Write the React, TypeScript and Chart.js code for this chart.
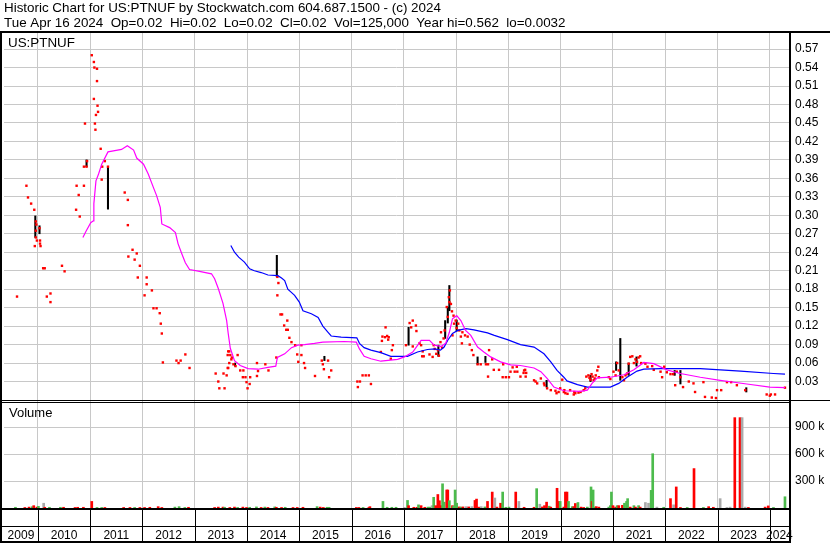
import React, { useEffect, useRef } from 'react';
import { Chart, registerables } from 'chart.js';

Chart.register(...registerables);

const FONT = '"Liberation Sans", Arial, sans-serif';

const titleLine1 = 'Historic Chart for US:PTNUF by Stockwatch.com 604.687.1500 - (c) 2024';
const titleLine2 = 'Tue Apr 16 2024  Op=0.02  Hi=0.02  Lo=0.02  Cl=0.02  Vol=125,000  Year hi=0.562  lo=0.0032';
const symbolLabel = 'US:PTNUF';
const volumeLabel = 'Volume';

const xMin = 2009.351;
const xMax = 2024.367;
const yearBoundaries = [2010, 2011, 2012, 2013, 2014, 2015, 2016, 2017, 2018, 2019, 2020, 2021, 2022, 2023, 2024];
const yearLabels = ['2009', '2010', '2011', '2012', '2013', '2014', '2015', '2016', '2017', '2018', '2019', '2020', '2021', '2022', '2023', '2024'];
const priceTicks = [0.03, 0.06, 0.09, 0.12, 0.15, 0.18, 0.21, 0.24, 0.27, 0.3, 0.33, 0.36, 0.39, 0.42, 0.45, 0.48, 0.51, 0.54, 0.57];
const priceMax = 0.5961;
const volTicks = [300000, 600000, 900000];
const volTickLabels = ['300 k', '600 k', '900 k'];
const volMax = 1200000;

// daily closes (decimal year, price)
const closeDates = [
  2009.60, 2009.78, 2009.81, 2009.87, 2009.93, 2009.94, 2009.96, 2009.97, 2009.96, 2009.96, 2009.98, 2010.03, 2010.04, 2010.04, 2010.05,
  2010.10, 2010.13, 2010.17, 2010.24, 2010.24, 2010.46, 2010.51, 2010.73, 2010.74, 2010.78, 2010.80, 2010.88, 2010.88, 2010.90, 2010.93,
  2010.94, 2011.03, 2011.07, 2011.08, 2011.13, 2011.13, 2011.07, 2011.14, 2011.15, 2011.11, 2011.09, 2011.10, 2011.20, 2011.28, 2011.23,
  2011.34, 2011.22, 2011.66, 2011.72, 2011.72, 2011.81, 2011.89, 2011.73, 2011.85, 2011.95, 2011.91, 2012.08, 2012.08, 2012.18, 2012.04,
  2012.21, 2012.27, 2012.33, 2012.35, 2012.37, 2012.39, 2012.65, 2012.73, 2012.69, 2012.82, 2012.90,
  2013.40, 2013.45, 2013.47, 2013.57, 2013.55, 2013.61, 2013.63, 2013.64, 2013.66, 2013.70, 2013.64, 2013.66, 2013.63, 2013.68, 2013.82,
  2013.71, 2013.74, 2013.78, 2013.87, 2013.93, 2013.92, 2013.97, 2013.99, 2014.05, 2014.01, 2014.06, 2014.19, 2014.21, 2014.19, 2014.35,
  2014.41, 2014.56, 2014.58, 2014.60, 2014.58, 2014.64, 2014.67, 2014.71, 2014.77, 2014.75, 2014.78, 2014.81, 2014.85, 2014.92, 2015.04,
  2014.96, 2015.04, 2014.98, 2015.09, 2015.11, 2015.30, 2015.43, 2015.55, 2015.45, 2015.47, 2015.61, 2015.57,
  2016.11, 2016.16, 2016.12, 2016.21, 2016.27, 2016.33, 2016.37, 2016.56, 2016.58, 2016.59, 2016.64, 2016.65, 2016.68, 2016.71, 2016.70,
  2016.75, 2016.77, 2016.79, 2017.04, 2017.11, 2017.17, 2017.14, 2017.23, 2017.24, 2017.17, 2017.30, 2017.33, 2017.36, 2017.35, 2017.38,
  2017.49, 2017.55, 2017.57, 2017.59, 2017.62, 2017.65, 2017.67, 2017.71, 2017.70, 2017.73, 2017.76, 2017.78, 2017.84, 2017.82, 2017.86,
  2017.88, 2017.87, 2017.90, 2017.92, 2017.95, 2017.99, 2017.96, 2018.04, 2018.01, 2018.06, 2017.93, 2018.12, 2018.09, 2018.17, 2018.22,
  2018.11, 2018.26, 2018.30, 2018.33, 2018.41, 2018.47, 2018.57, 2018.61, 2018.63, 2018.69, 2018.72, 2018.82, 2018.90, 2019.01, 2019.04,
  2019.12, 2019.17, 2018.89, 2018.95, 2018.61, 2019.23, 2019.33, 2019.30, 2019.16, 2019.08, 2019.32, 2019.29, 2019.34,
  2019.49, 2019.55, 2019.52, 2019.62, 2019.68, 2019.69, 2019.74, 2019.81, 2019.90, 2019.92, 2019.96, 2019.99, 2020.03, 2020.06, 2020.07,
  2020.09, 2020.13, 2020.18, 2020.25, 2020.26, 2020.28, 2020.34, 2020.38, 2020.44, 2020.47, 2020.49, 2020.53, 2020.55, 2020.57, 2020.59,
  2020.61, 2020.63, 2020.65, 2020.67, 2020.70, 2020.72, 2020.73, 2020.92, 2020.95, 2021.01, 2021.05, 2021.08, 2021.11, 2021.18, 2021.21,
  2021.24, 2021.27, 2021.30, 2021.33, 2021.37, 2021.40, 2021.43, 2021.46, 2021.49, 2021.52, 2021.54, 2021.62, 2021.66, 2021.75, 2021.78,
  2021.91, 2021.94, 2021.98, 2022.03, 2022.10, 2022.15, 2022.22, 2022.29, 2022.19, 2022.34, 2022.45, 2022.54, 2022.57, 2022.73, 2022.76,
  2022.89, 2022.97, 2022.99, 2023.07, 2023.18, 2023.26, 2023.37, 2023.53, 2023.94, 2024.00, 2024.02, 2024.10, 2024.29,
];
const closePrices = [
  0.168, 0.348, 0.329, 0.319, 0.309, 0.250, 0.290, 0.285, 0.275, 0.264, 0.259, 0.279, 0.259, 0.254, 0.250,
  0.214, 0.214, 0.168, 0.173, 0.159, 0.218, 0.209, 0.309, 0.348, 0.333, 0.298, 0.348, 0.379, 0.449, 0.379,
  0.388, 0.560, 0.549, 0.540, 0.538, 0.518, 0.489, 0.478, 0.468, 0.463, 0.449, 0.439, 0.408, 0.388, 0.379,
  0.379, 0.358, 0.337, 0.325, 0.284, 0.244, 0.238, 0.233, 0.228, 0.218, 0.199, 0.199, 0.188, 0.178, 0.170,
  0.149, 0.149, 0.141, 0.124, 0.108, 0.061, 0.064, 0.064, 0.060, 0.074, 0.052,
  0.043, 0.030, 0.019, 0.019, 0.043, 0.040, 0.052, 0.052, 0.060, 0.066, 0.079, 0.079, 0.073, 0.073, 0.073,
  0.069, 0.058, 0.055, 0.048, 0.048, 0.037, 0.037, 0.029, 0.026, 0.019, 0.037, 0.060, 0.047, 0.039, 0.058,
  0.048, 0.069, 0.200, 0.190, 0.170, 0.139, 0.139, 0.121, 0.129, 0.114, 0.114, 0.101, 0.094, 0.089, 0.089,
  0.074, 0.073, 0.062, 0.060, 0.052, 0.039, 0.064, 0.064, 0.058, 0.050, 0.048, 0.037,
  0.030, 0.030, 0.021, 0.040, 0.040, 0.040, 0.026, 0.078, 0.096, 0.103, 0.102, 0.118, 0.104, 0.102, 0.098,
  0.067, 0.081, 0.089, 0.089, 0.125, 0.129, 0.118, 0.121, 0.112, 0.087, 0.092, 0.089, 0.079, 0.071, 0.071,
  0.074, 0.070, 0.089, 0.083, 0.075, 0.081, 0.072, 0.110, 0.094, 0.085, 0.100, 0.113, 0.135, 0.151, 0.167,
  0.178, 0.159, 0.156, 0.144, 0.137, 0.129, 0.124, 0.124, 0.117, 0.113, 0.105, 0.110, 0.103, 0.105, 0.103,
  0.092, 0.090, 0.081, 0.073, 0.058, 0.058, 0.058, 0.058, 0.081, 0.066, 0.049, 0.049, 0.058, 0.037, 0.046,
  0.046, 0.046, 0.037, 0.037, 0.038, 0.038, 0.038, 0.048, 0.054, 0.053, 0.049, 0.044, 0.044,
  0.032, 0.027, 0.030, 0.035, 0.027, 0.024, 0.019, 0.016, 0.015, 0.011, 0.013, 0.019, 0.033, 0.013, 0.016,
  0.011, 0.010, 0.016, 0.009, 0.013, 0.011, 0.012, 0.013, 0.016, 0.019, 0.038, 0.040, 0.036, 0.033, 0.042,
  0.038, 0.032, 0.035, 0.040, 0.048, 0.054, 0.037, 0.037, 0.034, 0.046, 0.040, 0.060, 0.048, 0.037, 0.032,
  0.040, 0.043, 0.059, 0.070, 0.071, 0.060, 0.066, 0.062, 0.069, 0.071, 0.060, 0.059, 0.054, 0.055, 0.049,
  0.046, 0.037, 0.054, 0.045, 0.042, 0.042, 0.046, 0.037, 0.024, 0.021, 0.030, 0.027, 0.013, 0.029, 0.005,
  0.004, 0.0032, 0.016, 0.016, 0.029, 0.029, 0.024, 0.016, 0.009, 0.007, 0.009, 0.009, 0.020,
];

// daily high-low ranges
const hlDates = [2009.95, 2010.03, 2010.93, 2011.34, 2013.77, 2014.57, 2015.48, 2017.09, 2017.66, 2017.79, 2017.84, 2017.87, 2018.01, 2018.41, 2018.56, 2019.73, 2020.57, 2021.06, 2021.14, 2021.30, 2021.45, 2022.18, 2022.29, 2023.55];
const hlHigh = [0.299, 0.283, 0.390, 0.379, 0.060, 0.235, 0.071, 0.118, 0.089, 0.129, 0.151, 0.186, 0.130, 0.070, 0.071, 0.032, 0.040, 0.062, 0.100, 0.060, 0.070, 0.048, 0.048, 0.020];
const hlLow = [0.264, 0.270, 0.379, 0.310, 0.055, 0.200, 0.064, 0.089, 0.071, 0.100, 0.125, 0.145, 0.112, 0.058, 0.061, 0.021, 0.030, 0.048, 0.032, 0.040, 0.055, 0.040, 0.026, 0.013];

// magenta moving average
const maFastDates = [2010.86, 2010.92, 2011.01, 2011.06, 2011.07, 2011.11, 2011.16, 2011.22, 2011.34, 2011.47, 2011.60, 2011.71, 2011.83, 2011.89, 2012.02, 2012.11, 2012.21, 2012.27, 2012.34, 2012.37, 2012.52, 2012.63, 2012.68, 2012.75, 2012.82, 2012.90, 2013.09, 2013.32, 2013.38, 2013.45, 2013.54, 2013.61, 2013.64, 2013.68, 2013.76, 2013.87, 2014.02, 2014.21, 2014.40, 2014.55, 2014.58, 2014.72, 2014.85, 2014.97, 2015.10, 2015.29, 2015.45, 2015.86, 2016.09, 2016.15, 2016.24, 2016.37, 2016.56, 2016.88, 2017.01, 2017.17, 2017.33, 2017.49, 2017.58, 2017.71, 2017.80, 2017.87, 2017.93, 2018.01, 2018.09, 2018.18, 2018.28, 2018.41, 2018.53, 2018.66, 2018.85, 2019.04, 2019.23, 2019.49, 2019.62, 2019.74, 2019.87, 2020.06, 2020.38, 2020.51, 2020.60, 2020.70, 2020.95, 2021.21, 2021.40, 2021.59, 2021.78, 2022.03, 2022.29, 2022.67, 2023.05, 2023.56, 2024.00, 2024.29];
const maFastValues = [0.264, 0.274, 0.288, 0.291, 0.319, 0.356, 0.367, 0.383, 0.403, 0.405, 0.407, 0.413, 0.406, 0.393, 0.383, 0.367, 0.345, 0.332, 0.313, 0.286, 0.280, 0.272, 0.254, 0.238, 0.223, 0.212, 0.209, 0.205, 0.197, 0.181, 0.157, 0.129, 0.108, 0.084, 0.064, 0.056, 0.051, 0.050, 0.053, 0.055, 0.069, 0.075, 0.085, 0.089, 0.090, 0.092, 0.094, 0.095, 0.094, 0.083, 0.071, 0.067, 0.063, 0.066, 0.070, 0.078, 0.097, 0.097, 0.089, 0.087, 0.092, 0.110, 0.132, 0.137, 0.129, 0.113, 0.105, 0.086, 0.078, 0.070, 0.062, 0.057, 0.056, 0.052, 0.046, 0.035, 0.021, 0.015, 0.014, 0.016, 0.027, 0.036, 0.037, 0.041, 0.049, 0.061, 0.059, 0.049, 0.043, 0.037, 0.032, 0.026, 0.021, 0.020];

// blue moving average
const maSlowDates = [2013.69, 2013.76, 2013.84, 2013.95, 2014.05, 2014.14, 2014.27, 2014.40, 2014.59, 2014.66, 2014.72, 2014.78, 2014.91, 2015.00, 2015.07, 2015.23, 2015.36, 2015.45, 2015.55, 2015.61, 2015.80, 2016.10, 2016.15, 2016.24, 2016.37, 2016.56, 2016.75, 2017.07, 2017.26, 2017.45, 2017.59, 2017.70, 2017.77, 2017.84, 2017.93, 2018.03, 2018.19, 2018.34, 2018.60, 2018.73, 2018.98, 2019.23, 2019.49, 2019.68, 2019.81, 2019.93, 2020.06, 2020.12, 2020.32, 2020.51, 2020.95, 2021.11, 2021.27, 2021.46, 2021.59, 2021.91, 2022.67, 2023.44, 2024.07, 2024.29];
const maSlowValues = [0.251, 0.240, 0.232, 0.224, 0.213, 0.210, 0.207, 0.203, 0.202, 0.198, 0.194, 0.180, 0.170, 0.159, 0.145, 0.140, 0.134, 0.120, 0.110, 0.104, 0.102, 0.101, 0.092, 0.085, 0.081, 0.077, 0.071, 0.071, 0.078, 0.082, 0.083, 0.081, 0.086, 0.097, 0.108, 0.113, 0.116, 0.114, 0.109, 0.105, 0.098, 0.090, 0.086, 0.075, 0.062, 0.048, 0.037, 0.031, 0.025, 0.021, 0.021, 0.027, 0.037, 0.047, 0.050, 0.051, 0.051, 0.047, 0.043, 0.042];

// daily volume (decimal year, shares, direction: u = up, d = down, n = unchanged)
const volDates = [
  2009.57, 2009.75, 2009.83, 2009.89, 2009.92, 2009.98, 2010.01, 2010.11, 2010.13, 2010.22, 2010.43, 2010.49, 2010.71, 2010.76, 2010.87,
  2011.03, 2011.13, 2011.22, 2011.28, 2011.64, 2011.76, 2011.85, 2011.95, 2012.04, 2012.14, 2012.30, 2012.37, 2012.62, 2012.70, 2012.81,
  2012.88, 2013.38, 2013.45, 2013.54, 2013.57, 2013.67, 2013.76, 2013.82, 2013.92, 2013.99, 2014.05, 2014.18, 2014.27, 2014.34, 2014.40,
  2014.53, 2014.56, 2014.66, 2014.73, 2014.88, 2014.96, 2015.07, 2015.34, 2015.40, 2015.46, 2015.53, 2015.57, 2016.09, 2016.14, 2016.22,
  2016.33, 2016.35, 2016.60, 2016.68, 2016.77, 2016.85, 2017.01, 2017.07, 2017.09, 2017.19, 2017.25, 2017.28, 2017.33, 2017.40, 2017.46,
  2017.50, 2017.54, 2017.57, 2017.61, 2017.65, 2017.68, 2017.71, 2017.74, 2017.77, 2017.82, 2017.84, 2017.87, 2017.93, 2017.95, 2017.98,
  2018.01, 2018.06, 2018.09, 2018.13, 2018.19, 2018.24, 2018.30, 2018.36, 2018.39, 2018.43, 2018.48, 2018.55, 2018.60, 2018.69, 2018.74,
  2018.78, 2018.85, 2018.89, 2018.95, 2019.01, 2019.14, 2019.20, 2019.30, 2019.49, 2019.54, 2019.60, 2019.65, 2019.69, 2019.73, 2019.78,
  2019.81, 2019.93, 2019.96, 2019.99, 2020.06, 2020.09, 2020.12, 2020.15, 2020.22, 2020.25, 2020.28, 2020.33, 2020.39, 2020.44, 2020.51,
  2020.58, 2020.60, 2020.62, 2020.65, 2020.68, 2020.73, 2020.92, 2020.95, 2020.97, 2021.00, 2021.05, 2021.08, 2021.11, 2021.18, 2021.22,
  2021.26, 2021.28, 2021.33, 2021.40, 2021.43, 2021.49, 2021.52, 2021.62, 2021.68, 2021.73, 2021.76, 2021.84, 2021.97, 2022.10, 2022.16,
  2022.21, 2022.29, 2022.42, 2022.55, 2022.73, 2022.83, 2022.92, 2023.05, 2023.18, 2023.24, 2023.33, 2023.43, 2023.47, 2023.53, 2023.59,
  2023.91, 2023.97, 2024.07, 2024.29,
];
const volShares = [
  8000, 6000, 10000, 14000, 26000, 10000, 18000, 53000, 8000, 8000, 8000, 8000, 6000, 8000, 8000,
  73000, 6000, 6000, 6000, 6000, 6000, 6000, 6000, 6000, 8000, 15000, 6000, 10000, 15000, 6000,
  8000, 6000, 10000, 10000, 8000, 6000, 10000, 6000, 10000, 6000, 8000, 12000, 6000, 10000, 6000,
  12000, 8000, 6000, 8000, 6000, 6000, 8000, 15000, 10000, 6000, 8000, 8000, 6000, 6000, 6000,
  6000, 15000, 73000, 8000, 8000, 8000, 6000, 84000, 26000, 8000, 8000, 35000, 26000, 8000, 10000,
  10000, 26000, 119000, 26000, 150000, 81000, 26000, 269000, 65000, 200000, 200000, 81000, 26000, 20000, 200000,
  53000, 12000, 10000, 12000, 15000, 12000, 15000, 84000, 99000, 10000, 15000, 12000, 73000, 177000, 111000,
  10000, 53000, 177000, 8000, 10000, 177000, 73000, 8000, 8000, 215000, 42000, 12000, 26000, 65000, 20000,
  10000, 219000, 73000, 73000, 10000, 177000, 177000, 73000, 15000, 15000, 50000, 61000, 10000, 6000, 10000,
  234000, 73000, 200000, 10000, 15000, 10000, 10000, 26000, 177000, 26000, 10000, 26000, 26000, 30000, 53000,
  73000, 104000, 10000, 26000, 10000, 26000, 10000, 61000, 53000, 196000, 603000, 10000, 8000, 104000, 35000,
  234000, 6000, 6000, 438000, 6000, 15000, 8000, 104000, 6000, 10000, 1004000, 1004000, 1004000, 10000, 6000,
  10000, 23000, 6000, 125000,
];
const volDir = [
  'u', 'd', 'd', 'u', 'd', 'd', 'u', 'n', 'd', 'u', 'u', 'd', 'd', 'd', 'd',
  'd', 'u', 'u', 'd', 'd', 'd', 'u', 'd', 'd', 'd', 'd', 'd', 'u', 'u', 'u',
  'd', 'd', 'd', 'd', 'u', 'd', 'd', 'u', 'd', 'd', 'u', 'u', 'd', 'u', 'd',
  'u', 'd', 'd', 'u', 'd', 'd', 'd', 'u', 'd', 'd', 'u', 'u', 'd', 'd', 'u',
  'd', 'd', 'u', 'u', 'u', 'u', 'n', 'u', 'd', 'd', 'd', 'u', 'd', 'd', 'u',
  'u', 'n', 'u', 'd', 'd', 'd', 'd', 'u', 'u', 'd', 'd', 'u', 'd', 'u', 'u',
  'u', 'd', 'u', 'd', 'n', 'd', 'n', 'd', 'd', 'd', 'n', 'u', 'd', 'd', 'n',
  'd', 'd', 'u', 'u', 'u', 'd', 'n', 'd', 'd', 'u', 'n', 'd', 'd', 'd', 'u',
  'd', 'd', 'd', 'u', 'd', 'd', 'd', 'u', 'u', 'd', 'd', 'u', 'd', 'd', 'u',
  'u', 'd', 'u', 'u', 'd', 'd', 'u', 'u', 'u', 'd', 'd', 'u', 'd', 'd', 'u',
  'u', 'u', 'd', 'u', 'd', 'u', 'd', 'n', 'n', 'u', 'u', 'n', 'u', 'd', 'n',
  'd', 'd', 'u', 'd', 'u', 'd', 'd', 'n', 'n', 'n', 'd', 'd', 'n', 'n', 'd',
  'd', 'd', 'u', 'u',
];

const dirColors: Record<string, string> = { u: '#4cbb4c', d: '#ff0000', n: '#aaaaaa' };

const yearLabelPositions = yearLabels.map((_, i) => {
  if (i === 0) return (xMin + yearBoundaries[0]) / 2;
  if (i === yearLabels.length - 1) return (yearBoundaries[yearBoundaries.length - 1] + xMax) / 2;
  return yearBoundaries[i - 1] + 0.5;
});

const framePlugin = {
  id: 'stockwatchFrame',
  afterDraw(chart: any) {
    const ctx = chart.ctx as CanvasRenderingContext2D;
    const xs = chart.scales.x;
    const yp = chart.scales.yPrice;
    const yv = chart.scales.yVol;
    const right = Math.round(chart.chartArea.right);
    const W = chart.width;
    ctx.save();
    ctx.fillStyle = '#000';
    ctx.textBaseline = 'middle';
    ctx.textAlign = 'left';
    ctx.font = '13.4px ' + FONT;
    ctx.fillText(titleLine1, 4, 8.5);
    ctx.fillText(titleLine2, 4, 23);
    ctx.fillText(symbolLabel, 8, yp.top + 10);
    ctx.font = '13px ' + FONT;
    ctx.fillText(volumeLabel, 9, yv.top + 13);
    // frame lines
    ctx.fillRect(0, 31, W, 2);
    ctx.fillRect(0, 31, 2, chart.height - 31);
    ctx.fillRect(right, 31, 2, chart.height - 31);
    const sep = Math.round(yp.bottom);
    ctx.fillRect(0, sep, W, 1);
    ctx.fillRect(0, sep + 2, right, 1);
    const bot = Math.round(chart.chartArea.bottom);
    ctx.fillRect(0, bot, right, 2);
    ctx.fillRect(0, bot + 18, right, 1);
    ctx.fillRect(0, chart.height - 2, right, 2);
    for (const yr of yearBoundaries) {
      const px = Math.round(xs.getPixelForValue(yr));
      ctx.fillRect(px, bot + 2, 1, chart.height - bot - 4);
    }
    ctx.restore();
  },
};

export default function App() {
  const ref = useRef<HTMLCanvasElement>(null);
  useEffect(() => {
    document.body.style.margin = '0';
    const closeData = closeDates.map((d, i) => ({ x: d, y: closePrices[i] }));
    const hlData = hlDates.map((d, i) => ({ x: d, y: [hlLow[i], hlHigh[i]] }));
    const fastData = maFastDates.map((d, i) => ({ x: d, y: maFastValues[i] }));
    const slowData = maSlowDates.map((d, i) => ({ x: d, y: maSlowValues[i] }));
    const volData = volDates.map((d, i) => ({ x: d, y: volShares[i] }));
    const volColors = volDir.map((c) => dirColors[c]);

    const tickFont = { family: FONT, size: 12 };

    const chart = new Chart(ref.current as HTMLCanvasElement, {
      type: 'scatter',
      data: {
        datasets: [
          {
            type: 'bar',
            label: 'Volume',
            data: volData as any,
            xAxisID: 'x',
            yAxisID: 'yVol',
            backgroundColor: volColors,
            borderWidth: 0,
            barThickness: 2,
            grouped: false,
            order: 6,
          } as any,
          {
            type: 'bar',
            label: 'Range',
            data: hlData as any,
            xAxisID: 'x',
            yAxisID: 'yPrice',
            backgroundColor: '#000000',
            borderWidth: 0,
            barThickness: 1.4,
            grouped: false,
            order: 5,
          } as any,
          {
            type: 'scatter',
            label: 'Close',
            data: closeData,
            xAxisID: 'x',
            yAxisID: 'yPrice',
            pointStyle: 'rect',
            pointRadius: 1.7,
            pointBorderWidth: 0,
            backgroundColor: '#ff0000',
            borderColor: '#ff0000',
            order: 4,
          } as any,
          {
            type: 'line',
            label: 'MA slow',
            data: slowData,
            xAxisID: 'x',
            yAxisID: 'yPrice',
            borderColor: '#0000ff',
            borderWidth: 1.2,
            pointRadius: 0,
            tension: 0,
            fill: false,
            order: 3,
          } as any,
          {
            type: 'line',
            label: 'MA fast',
            data: fastData,
            xAxisID: 'x',
            yAxisID: 'yPrice',
            borderColor: '#ff00ff',
            borderWidth: 1.2,
            pointRadius: 0,
            tension: 0,
            fill: false,
            order: 2,
          } as any,
        ],
      },
      options: {
        responsive: false,
        animation: false,
        devicePixelRatio: 1,
        events: [],
        layout: { padding: { left: 2, top: 33, right: 0, bottom: 0 } },
        plugins: { legend: { display: false }, tooltip: { enabled: false }, title: { display: false } },
        scales: {
          x: {
            type: 'linear',
            position: 'bottom',
            min: xMin,
            max: xMax,
            offset: false,
            bounds: 'data',
            grid: { color: '#c8c8c8', drawTicks: false, offset: false },
            border: { display: false },
            ticks: { display: false },
            afterBuildTicks: (s: any) => { s.ticks = yearBoundaries.map((v) => ({ value: v })); },
            afterFit: (s: any) => { s.height = 0; s.paddingLeft = 0; s.paddingRight = 0; },
          },
          xl: {
            type: 'linear',
            position: 'bottom',
            min: xMin,
            max: xMax,
            offset: false,
            bounds: 'data',
            grid: { display: false, drawTicks: false },
            border: { display: false },
            ticks: {
              color: '#000',
              font: tickFont,
              padding: 20,
              autoSkip: false,
              maxRotation: 0,
              minRotation: 0,
              callback: (_v: any, i: number) => yearLabels[i],
            },
            afterBuildTicks: (s: any) => { s.ticks = yearLabelPositions.map((v) => ({ value: v })); },
            afterFit: (s: any) => { s.height = 35; s.paddingLeft = 0; s.paddingRight = 0; },
          },
          yPrice: {
            type: 'linear',
            position: 'right',
            stack: 'panels',
            stackWeight: 367,
            min: 0,
            max: priceMax,
            grid: { color: '#c8c8c8', drawTicks: false },
            border: { display: false },
            ticks: {
              color: '#000',
              font: tickFont,
              padding: 6,
              autoSkip: false,
              callback: (v: any) => Number(v).toFixed(2),
            },
            afterBuildTicks: (s: any) => { s.ticks = priceTicks.map((v) => ({ value: v })); },
            afterFit: (s: any) => { s.width = 41; s.paddingTop = 0; s.paddingBottom = 0; },
          },
          yVol: {
            type: 'linear',
            position: 'right',
            stack: 'panels',
            stackWeight: 108,
            min: 0,
            max: volMax,
            grid: { color: '#c8c8c8', drawTicks: false },
            border: { display: false },
            ticks: {
              color: '#000',
              font: tickFont,
              padding: 6,
              autoSkip: false,
              callback: (_v: any, i: number) => volTickLabels[i],
            },
            afterBuildTicks: (s: any) => { s.ticks = volTicks.map((v) => ({ value: v })); },
            afterFit: (s: any) => { s.width = 41; s.paddingTop = 0; s.paddingBottom = 0; },
          },
        },
      } as any,
      plugins: [framePlugin],
    });
    return () => chart.destroy();
  }, []);

  return (
    <div style={{ width: 830, height: 543 }}>
      <canvas ref={ref} width={830} height={543} style={{ display: 'block' }} />
    </div>
  );
}
